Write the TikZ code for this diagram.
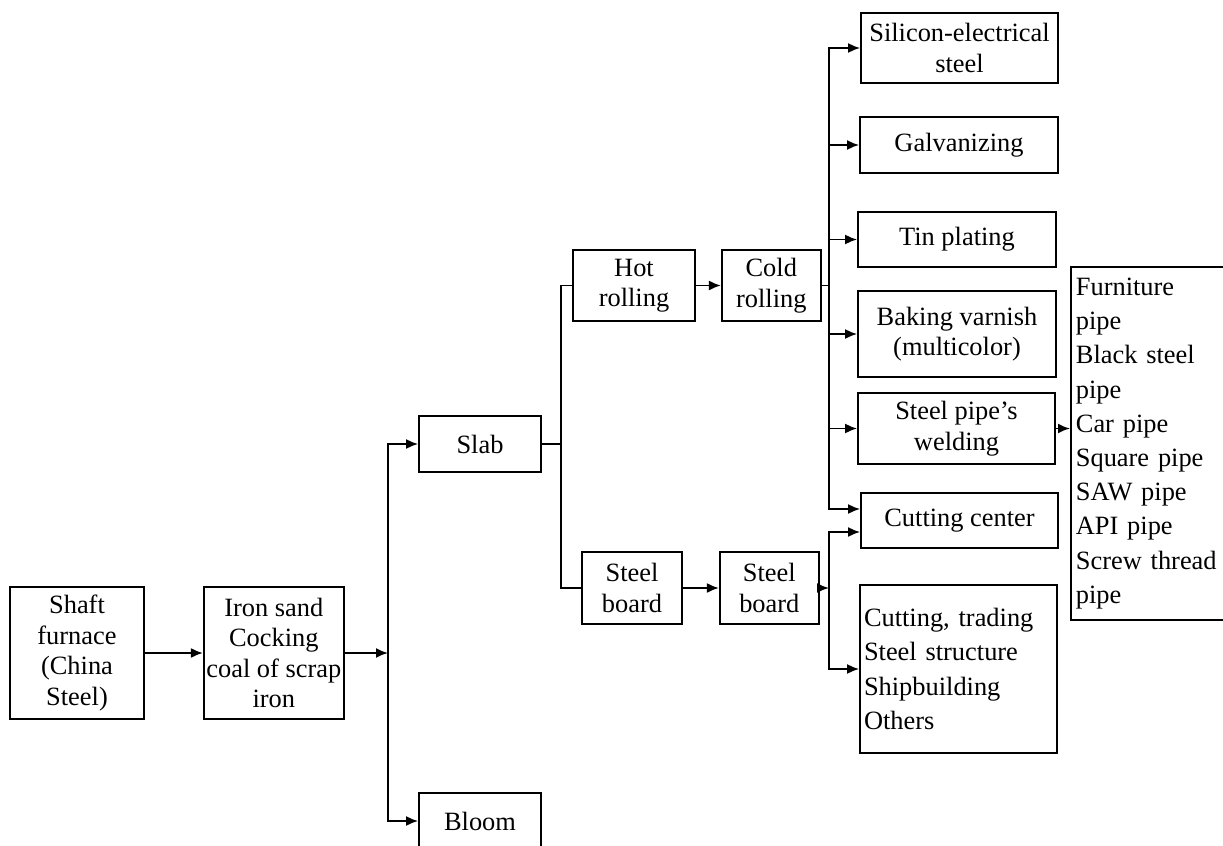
\documentclass[tikz,border=0pt]{standalone}
\usepackage{fontspec}
\setmainfont{Liberation Serif}
\usetikzlibrary{positioning,arrows.meta}

\begin{document}
\begin{tikzpicture}[
  x=0.5pt, y=-0.5pt,
  font=\fontsize{13.2}{15.2}\selectfont,
  block/.style = {
    draw,
    shape=rectangle,
    line width=0.9pt,
    inner sep=1pt,
    align=center
  },
  listbox/.style = {
    block,
    align=left,
    inner xsep=2pt,
    font=\fontsize{13.2}{17.1}\selectfont
  },
  flow/.style = {
    line width=0.9pt,
    -{Latex[length=6pt,width=5pt]}
  },
  link/.style = {
    line width=0.9pt
  },
]
  \useasboundingbox (0,0) rectangle (1223,846);

  \node (shaft)[
    block,
    minimum width=67pt,
    minimum height=66pt
  ] at (77,653) {Shaft\\furnace\\(China\\Steel)};
  \node (ironsand)[
    right=29pt of shaft,
    block,
    minimum width=70pt,
    minimum height=66pt
  ] {Iron sand\\Cocking\\coal of scrap\\iron};
  \node (slab)[
    block,
    minimum width=61pt,
    minimum height=28pt
  ] at (480,444) {Slab};
  \node (bloom)[
    block,
    minimum width=61pt,
    minimum height=28pt
  ] at (480,821) {Bloom};
  \node (hotroll)[
    block,
    minimum width=61pt,
    minimum height=35.5pt
  ] at (634,285.5) {Hot\\rolling};
  \node (coldroll)[
    right=12.5pt of hotroll,
    block,
    minimum width=49.5pt,
    minimum height=35.5pt
  ] {Cold\\rolling};
  \node (board)[
    block,
    minimum width=50pt,
    minimum height=36pt
  ] at (632,588) {Steel\\board};
  \node (boardb)[
    right=18pt of board,
    block,
    minimum width=49.5pt,
    minimum height=36pt
  ] {Steel\\board};

  \node (silicon)[
    block,
    minimum width=98.5pt,
    minimum height=35pt
  ] at (959.5,48) {Silicon-electrical\\steel};
  \node (galvan)[
    block,
    minimum width=99pt,
    minimum height=28pt
  ] at (959,145) {Galvanizing};
  \node (tin)[
    block,
    minimum width=99pt,
    minimum height=27.5pt
  ] at (957,239.5) {Tin plating};
  \node (varnish)[
    block,
    minimum width=99pt,
    minimum height=43pt
  ] at (957,334) {Baking varnish\\(multicolor)};
  \node (welding)[
    block,
    minimum width=98.5pt,
    minimum height=35.5pt
  ] at (956.5,428.5) {Steel pipe’s\\welding};
  \node (cutcenter)[
    block,
    minimum width=98.5pt,
    minimum height=27.5pt
  ] at (959.5,520.5) {Cutting center};
  \node (trading)[
    listbox,
    text width=94.5pt,
    minimum height=84pt
  ] at (958.5,669) {Cutting, trading\\Steel structure\\Shipbuilding\\Others};
  \node (pipes)[
    listbox,
    anchor=west,
    inner xsep=2.5pt,
    text width=80pt,
    minimum height=176.5pt
  ] at (1070,443.5) {Furniture\\pipe\\Black steel\\pipe\\Car pipe\\Square pipe\\SAW pipe\\API pipe\\Screw thread\\pipe};

  \coordinate (j1) at (388,653);
  \coordinate (j2) at (561,444);
  \coordinate (j3) at (829,285.5);
  \coordinate (j4) at (829,588);

  \draw[flow] (shaft) -- (ironsand);
  \draw[flow] (ironsand) -- (j1);
  \draw[flow] (j1) |- (slab);
  \draw[flow] (j1) |- (bloom);
  \draw[link] (slab) -- (j2) |- (hotroll);
  \draw[link] (j2) |- (board);
  \draw[flow] (hotroll) -- (coldroll);
  \draw[flow] (board) -- (boardb);
  \draw[link] (coldroll) -- (j3);
  \draw[flow] (j3) |- (silicon);
  \draw[flow] (j3) |- (galvan);
  \draw[flow] (j3) |- (tin);
  \draw[flow] (j3) |- (varnish);
  \draw[flow] (j3) |- (welding);
  \draw[flow] (j3) |- ([yshift=5.75pt]cutcenter.west);
  \draw[flow] (boardb) -- (j4);
  \draw[flow] (j4) |- ([yshift=-5.75pt]cutcenter.west);
  \draw[flow] (j4) |- (trading);
  \draw[flow] (welding) -- (welding -| pipes.west);
\end{tikzpicture}
\end{document}
